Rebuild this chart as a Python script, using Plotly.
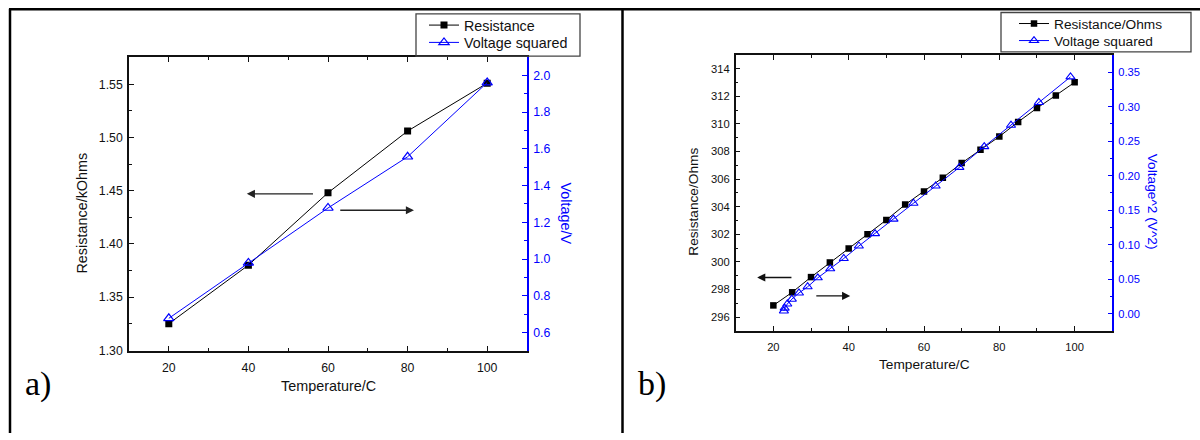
import plotly.graph_objects as go

W, H = 1200, 440

# ---- panel a) : resistance and voltage vs temperature ----
temp_a = [20, 40, 60, 80, 100]
res_a = [1.325, 1.380, 1.448, 1.506, 1.551]        # kOhms
volt_a = [0.677, 0.979, 1.278, 1.557, 1.961]       # V

# ---- panel b) : resistance and voltage squared vs temperature ----
temp_b_res = [20, 25, 30, 35, 40, 45, 50, 55, 60, 65, 70, 75, 80, 85, 90, 95, 100]
res_b = [296.85, 297.80, 298.90, 299.96, 300.97, 302.00, 303.04, 304.15, 305.10,
         306.10, 307.16, 308.13, 309.08, 310.14, 311.14, 312.06, 313.01]
temp_b_volt = [22.8, 23.0, 23.7, 24.9, 26.8, 29.1, 31.8, 35.1, 38.7, 42.7, 47.0,
               51.9, 57.2, 63.1, 69.4, 76.0, 83.1, 90.5, 98.9]
volt2_b = [0.004, 0.008, 0.014, 0.021, 0.030, 0.039, 0.052, 0.065, 0.080, 0.098,
           0.116, 0.137, 0.160, 0.185, 0.212, 0.242, 0.273, 0.306, 0.343]

# axis-pointer arrows: (tail x, head x, y on the left axis)
arrows_a = [(56.6, 39.6, 1.447), (62.7, 81.6, 1.4316)]
arrows_b = [(25.2, 15.7, 298.87), (31.0, 40.4, 297.54)]

BLUE = "#0000ff"
INK = "#111111"
FONT = "Arial, Liberation Sans, sans-serif"


def px_x(p):
    return p / W


def px_y(p):
    return 1 - p / H


fig = go.Figure()

# panel a traces (each legend entry lives in its own legend box row)
fig.add_trace(go.Scatter(x=temp_a, y=res_a, name="Resistance", mode="lines+markers",
                         line=dict(color="black", width=1),
                         marker=dict(symbol="square", size=7, color="black"),
                         xaxis="x", yaxis="y", legend="legend"))
fig.add_trace(go.Scatter(x=temp_a, y=volt_a, name="Voltage squared", mode="lines+markers",
                         line=dict(color=BLUE, width=1),
                         marker=dict(symbol="triangle-up-open", size=9, color=BLUE,
                                     line=dict(width=1.2, color=BLUE)),
                         xaxis="x", yaxis="y2", legend="legend2"))

# panel b traces
fig.add_trace(go.Scatter(x=temp_b_res, y=res_b, name="Resistance/Ohms", mode="lines+markers",
                         line=dict(color="black", width=1),
                         marker=dict(symbol="square", size=6.5, color="black"),
                         xaxis="x2", yaxis="y3", legend="legend3"))
fig.add_trace(go.Scatter(x=temp_b_volt, y=volt2_b, name="Voltage squared", mode="lines+markers",
                         line=dict(color=BLUE, width=1),
                         marker=dict(symbol="triangle-up-open", size=8, color=BLUE,
                                     line=dict(width=1.1, color=BLUE)),
                         xaxis="x2", yaxis="y4", legend="legend4"))


def xaxis_style(domain, anchor, fsize):
    return dict(domain=domain, anchor=anchor, range=[10, 110], tick0=0, dtick=20,
                ticks="inside", ticklen=5, tickwidth=1, tickcolor=INK,
                minor=dict(ticks="inside", ticklen=3, dtick=10, tick0=0, tickcolor=INK),
                showline=True, linecolor=INK, linewidth=1.5, mirror="ticks",
                showgrid=False, zeroline=False, ticklabelstandoff=5,
                tickfont=dict(family=FONT, size=fsize, color=INK), fixedrange=True)


def yaxis_style(domain, anchor, rng, dtick, mdtick, fmt, fsize):
    return dict(domain=domain, anchor=anchor, range=rng, tick0=0, dtick=dtick,
                ticks="inside", ticklen=5, tickwidth=1, tickcolor=INK,
                minor=dict(ticks="inside", ticklen=3, dtick=mdtick, tick0=0, tickcolor=INK),
                showline=True, linecolor=INK, linewidth=1.5,
                showgrid=False, zeroline=False, tickformat=fmt, ticklabelstandoff=2,
                tickfont=dict(family=FONT, size=fsize, color=INK), fixedrange=True)


def y2axis_style(overlay, anchor, rng, dtick, mdtick, fmt, fsize):
    return dict(overlaying=overlay, anchor=anchor, side="right", range=rng, tick0=0,
                dtick=dtick, ticks="inside", ticklen=5, tickwidth=1, tickcolor=BLUE,
                minor=dict(ticks="inside", ticklen=3, dtick=mdtick, tick0=0, tickcolor=BLUE),
                showline=True, linecolor=BLUE, linewidth=1.5,
                showgrid=False, zeroline=False, tickformat=fmt, ticklabelstandoff=2,
                tickfont=dict(family=FONT, size=fsize, color=BLUE), fixedrange=True)


def legend_row(x_px, y_px, fsize):
    return dict(x=px_x(x_px), y=px_y(y_px), xanchor="left", yanchor="middle",
                bgcolor="rgba(0,0,0,0)", borderwidth=0,
                font=dict(family=FONT, size=fsize, color=INK))


dom_a_x = [px_x(129), px_x(527)]
dom_a_y = [px_y(356.5), px_y(58)]
dom_b_x = [px_x(735.7), px_x(1112.3)]
dom_b_y = [px_y(336.3), px_y(55.7)]

layout = dict(
    width=W, height=H, margin=dict(l=0, r=0, t=0, b=0),
    paper_bgcolor="white", plot_bgcolor="white",
    showlegend=True,
    xaxis=xaxis_style(dom_a_x, "y", 12.3),
    yaxis=yaxis_style(dom_a_y, "x", [1.2995, 1.5755], 0.05, 0.025, ".2f", 12.3),
    yaxis2=y2axis_style("y", "x", [0.5, 2.1], 0.2, 0.1, ".1f", 12.3),
    xaxis2=xaxis_style(dom_b_x, "y3", 11.2),
    yaxis3=yaxis_style(dom_b_y, "x2", [295, 315], 2, 1, "d", 11.2),
    yaxis4=y2axis_style("y3", "x2", [-0.025, 0.375], 0.05, 0.025, ".2f", 11.2),
    legend=legend_row(424, 25.7, 14.3),
    legend2=legend_row(424, 43.3, 14.3),
    legend3=legend_row(1014, 24, 13.7),
    legend4=legend_row(1014, 41.3, 13.7),
)
fig.update_layout(**layout)

# frame lines and legend boxes
shapes = [
    dict(type="line", xref="paper", yref="paper", x0=px_x(9), x1=1, y0=px_y(9.5), y1=px_y(9.5),
         line=dict(color="black", width=2.5)),
    dict(type="line", xref="paper", yref="paper", x0=px_x(10), x1=px_x(10), y0=px_y(9), y1=0,
         line=dict(color="black", width=2.5)),
    dict(type="line", xref="paper", yref="paper", x0=px_x(622.5), x1=px_x(622.5), y0=px_y(9), y1=0,
         line=dict(color="black", width=2.5)),
    dict(type="rect", xref="paper", yref="paper", x0=px_x(416), x1=px_x(580),
         y0=px_y(57), y1=px_y(14), line=dict(color="#444444", width=1.3)),
    dict(type="rect", xref="paper", yref="paper", x0=px_x(1001), x1=px_x(1191),
         y0=px_y(52.7), y1=px_y(12.7), line=dict(color="#444444", width=1.3)),
]
fig.update_layout(shapes=shapes)

annotations = []
# axis titles
font_a = dict(family=FONT, size=14.4, color=INK)
font_a_blue = dict(family=FONT, size=14.4, color=BLUE)
font_b = dict(family=FONT, size=13.7, color=INK)
font_b_blue = dict(family=FONT, size=13.7, color=BLUE)
annotations += [
    dict(text="Temperature/C", xref="paper", yref="paper", x=px_x(328), y=px_y(392),
         showarrow=False, font=font_a, xanchor="center", yanchor="middle"),
    dict(text="Resistance/kOhms", xref="paper", yref="paper", x=px_x(82), y=px_y(217),
         showarrow=False, font=font_a, textangle=-90, xanchor="center", yanchor="middle"),
    dict(text="Voltage/V", xref="paper", yref="paper", x=px_x(566), y=px_y(217),
         showarrow=False, font=font_a_blue, textangle=90, xanchor="center", yanchor="middle"),
    dict(text="Temperature/C", xref="paper", yref="paper", x=px_x(924), y=px_y(370),
         showarrow=False, font=font_b, xanchor="center", yanchor="middle"),
    dict(text="Resistance/Ohms", xref="paper", yref="paper", x=px_x(694), y=px_y(205),
         showarrow=False, font=font_b, textangle=-90, xanchor="center", yanchor="middle"),
    dict(text="Voltage^2 (V^2)", xref="paper", yref="paper", x=px_x(1152), y=px_y(205),
         showarrow=False, font=font_b_blue, textangle=90, xanchor="center", yanchor="middle"),
]
# panel letters
letter_font = dict(family="Liberation Serif, Times New Roman, serif", size=34, color="black")
annotations += [
    dict(text="a)", xref="paper", yref="paper", x=px_x(23), y=px_y(390), showarrow=False,
         font=letter_font, xanchor="left", yanchor="middle"),
    dict(text="b)", xref="paper", yref="paper", x=px_x(636), y=px_y(390), showarrow=False,
         font=letter_font, xanchor="left", yanchor="middle"),
]
# arrows pointing at the relevant axis
for tail, head, yv in arrows_a:
    annotations.append(dict(text="", x=head, y=yv, ax=tail, ay=yv, xref="x", yref="y",
                            axref="x", ayref="y", showarrow=True, arrowhead=2,
                            arrowsize=1.25, arrowwidth=1.3, arrowcolor="#222222"))
for tail, head, yv in arrows_b:
    annotations.append(dict(text="", x=head, y=yv, ax=tail, ay=yv, xref="x2", yref="y3",
                            axref="x2", ayref="y3", showarrow=True, arrowhead=2,
                            arrowsize=1.25, arrowwidth=1.3, arrowcolor="#111111"))
fig.update_layout(annotations=annotations)

fig.write_html("out.html", config=dict(displayModeBar=False))
